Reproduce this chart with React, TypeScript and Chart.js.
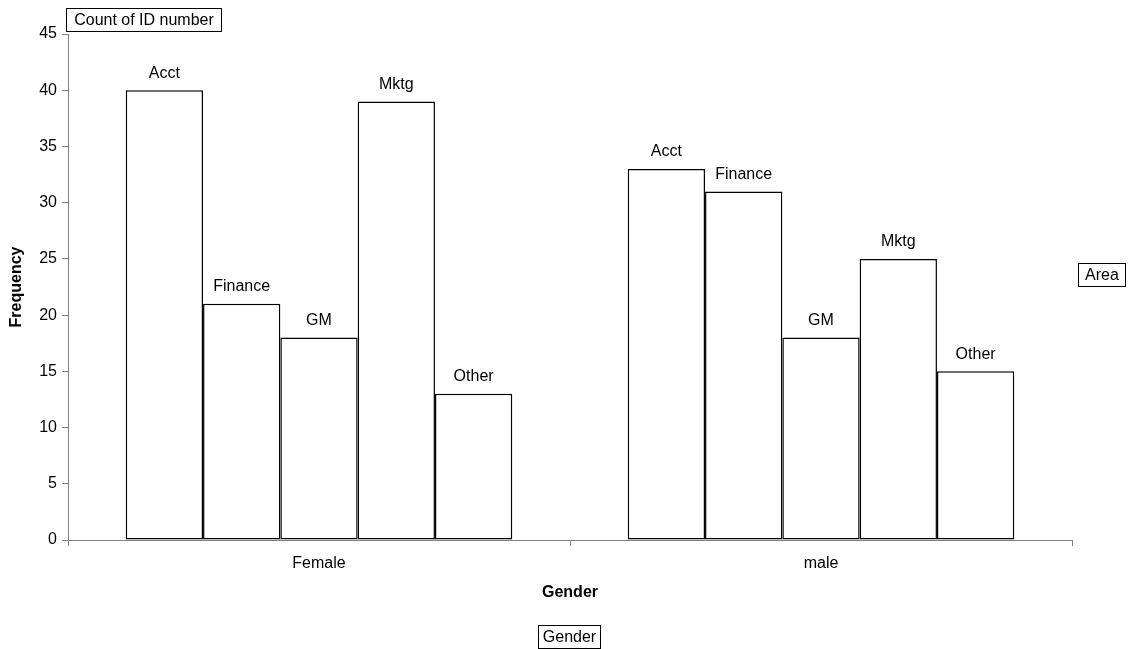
import { useEffect, useRef } from "react";
import { Chart, registerables } from "chart.js";

Chart.register(...registerables);

const categories = ["Female", "male"];
const seriesNames = ["Acct", "Finance", "GM", "Mktg", "Other"];
const acct = [40, 33];
const finance = [21, 31];
const gm = [18, 18];
const mktg = [39, 25];
const other = [13, 15];
const yTicks = [0, 5, 10, 15, 20, 25, 30, 35, 40, 45];

const FONT = "'Liberation Sans', Arial, sans-serif";
const FS = 16;

const labelsPlugin = {
  id: "barLabels",
  afterDatasetsDraw(chart: any) {
    const ctx = chart.ctx;
    ctx.save();
    ctx.font = `${FS}px ${FONT}`;
    ctx.fillStyle = "#000";
    ctx.textAlign = "center";
    ctx.textBaseline = "middle";
    chart.data.datasets.forEach((ds: any, i: number) => {
      const meta = chart.getDatasetMeta(i);
      meta.data.forEach((bar: any) => {
        ctx.fillText(ds.label, bar.x, bar.y - 17);
      });
    });
    ctx.restore();
  },
};

const boxesPlugin = {
  id: "fieldBoxes",
  afterDraw(chart: any) {
    const ctx = chart.ctx;
    ctx.save();
    ctx.font = `${FS}px ${FONT}`;
    ctx.strokeStyle = "#000";
    ctx.lineWidth = 1;
    ctx.textBaseline = "middle";
    ctx.textAlign = "center";
    const box = (text: string, x: number, y: number, w: number, h: number) => {
      ctx.fillStyle = "#fff";
      ctx.fillRect(x, y, w, h);
      ctx.strokeRect(x + 0.5, y + 0.5, w, h);
      ctx.fillStyle = "#000";
      ctx.fillText(text, x + w / 2 + 0.5, y + h / 2 + 1);
    };
    box("Count of ID number", 66, 8, 155, 23);
    box("Area", 1078, 263, 47, 23);
    box("Gender", 538, 625, 62, 23);
    ctx.restore();
  },
};

export default function App() {
  const ref = useRef<HTMLCanvasElement>(null);
  useEffect(() => {
    if (!ref.current) return;
    const dsStyle = {
      backgroundColor: "#ffffff",
      borderColor: "#000000",
      borderWidth: 1.5,
      borderSkipped: false as any,
      categoryPercentage: 0.77,
      barPercentage: 1.0,
    };
    const chart = new Chart(ref.current, {
      type: "bar",
      data: {
        labels: categories,
        datasets: [
          { label: seriesNames[0], data: acct, ...dsStyle },
          { label: seriesNames[1], data: finance, ...dsStyle },
          { label: seriesNames[2], data: gm, ...dsStyle },
          { label: seriesNames[3], data: mktg, ...dsStyle },
          { label: seriesNames[4], data: other, ...dsStyle },
        ],
      },
      options: {
        animation: false,
        responsive: false,
        maintainAspectRatio: false,
        layout: { padding: { top: 34, right: 56, bottom: 0, left: 0 } },
        plugins: { legend: { display: false }, tooltip: { enabled: false } },
        scales: {
          x: {
            afterFit: (s: any) => { s.height = 109; },
            border: { color: "#808080", width: 1 },
            grid: {
              offset: true,
              drawOnChartArea: false,
              color: "#808080",
              tickLength: 6,
            },
            ticks: { color: "#000", font: { family: FONT, size: FS }, padding: 8 },
            title: {
              display: true,
              text: "Gender",
              color: "#000",
              font: { family: FONT, size: FS, weight: "bold" },
              padding: { top: 0, bottom: 47 },
            },
          },
          y: {
            min: 0,
            max: 45,
            afterFit: (s: any) => { s.width = 68; },
            afterBuildTicks: (s: any) => { s.ticks = yTicks.map((v) => ({ value: v })); },
            border: { color: "#808080", width: 1 },
            grid: { drawOnChartArea: false, color: "#808080", tickLength: 6 },
            ticks: { color: "#000", font: { family: FONT, size: FS }, padding: 5 },
            title: {
              display: true,
              text: "Frequency",
              color: "#000",
              font: { family: FONT, size: FS, weight: "bold" },
              padding: { top: 7, bottom: 0 },
            },
          },
        },
      },
      plugins: [labelsPlugin, boxesPlugin],
    });
    return () => chart.destroy();
  }, []);
  return (
    <div style={{ position: "absolute", left: 0, top: 0, width: 1128, height: 649, background: "#fff" }}>
      <canvas ref={ref} width={1128} height={649} style={{ display: "block" }} />
    </div>
  );
}
